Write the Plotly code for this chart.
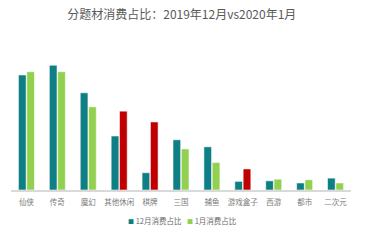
import plotly.graph_objects as go

categories = ["仙侠", "传奇", "魔幻", "其他休闲", "棋牌", "三国", "捕鱼", "游戏盒子", "西游", "都市", "二次元"]
dec_share = [21.3, 23.1, 18.0, 10.0, 3.2, 9.3, 8.0, 1.6, 1.7, 1.3, 2.2]
jan_share = [21.9, 21.9, 15.4, 14.6, 12.6, 7.6, 5.1, 3.9, 2.0, 1.9, 1.3]
highlight = ["其他休闲", "棋牌", "游戏盒子"]
series_names = ["12月消费占比", "1月消费占比"]

TEAL = "#0E7F85"
GREEN = "#92D050"
RED = "#C00000"

jan_colors = [RED if c in highlight else GREEN for c in categories]

fig = go.Figure()
fig.add_trace(go.Bar(
    x=categories, y=dec_share, name=series_names[0],
    marker=dict(color=TEAL, line=dict(color="rgba(255,255,255,0.55)", width=1)),
))
fig.add_trace(go.Bar(
    x=categories, y=jan_share, name=series_names[1],
    marker=dict(color=jan_colors, line=dict(color="rgba(255,255,255,0.55)", width=1)),
))

L, R, T, B = 11, 20, 40, 52
PW, PH = 371 - L - R, 242 - T - B
legend_y = (242 - B - 221) / PH
for nm, col, cx in [(series_names[0], TEAL, 155), (series_names[1], GREEN, 211.5)]:
    fig.add_annotation(
        text=f"<span style='color:{col};font-size:6px'>■</span> {nm}",
        xref="paper", yref="paper", x=(cx - L) / PW, y=legend_y, xanchor="center",
        yanchor="middle", showarrow=False,
        font=dict(size=7.5, color="#6b6b6b"))

fig.update_layout(
    width=371, height=242,
    margin=dict(l=L, r=R, t=T, b=B, autoexpand=False),
    paper_bgcolor="white", plot_bgcolor="white",
    barmode="group", bargap=0.46, bargroupgap=0.08,
    font=dict(family="Noto Sans CJK SC, sans-serif", color="#595959", size=8),
    title=dict(text="分题材消费占比：2019年12月vs2020年1月", x=0.49, xanchor="center",
               y=1 - 15 / 242, yanchor="middle", yref="container",
               font=dict(size=12, color="#595959")),
    showlegend=False,
    xaxis=dict(showline=True, linecolor="#D9D9D9", linewidth=2, ticks="",
               tickfont=dict(size=7.5, color="#7a7a7a"), fixedrange=True,
               ticklabelstandoff=4),
    yaxis=dict(range=[0, PH / 5.4], visible=False, showgrid=False, fixedrange=True),
)

fig.write_html("out.html")
